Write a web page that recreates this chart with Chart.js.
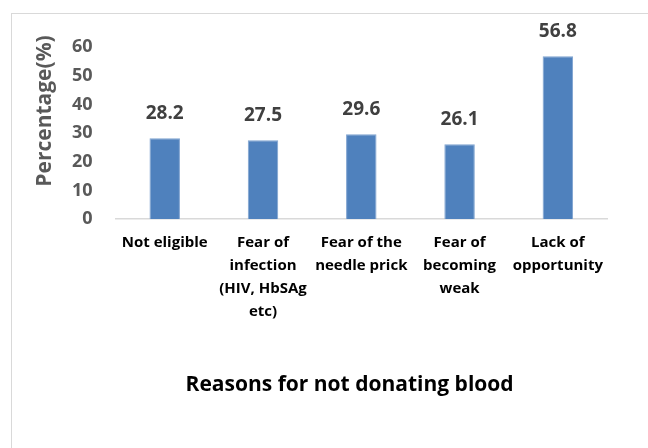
<!DOCTYPE html>
<html>
<head>
<meta charset="utf-8">
<script src="https://cdn.jsdelivr.net/npm/chart.js@4.4.0/dist/chart.umd.min.js"></script>
<style>
  html, body { margin: 0; padding: 0; background: #fff; }
  #wrap { position: relative; width: 648px; height: 448px; }
  #frame { position: absolute; left: 11px; top: 13px; right: 0; bottom: 0;
           border-left: 1.5px solid #d9d9d9; border-top: 1.5px solid #d9d9d9; }
  canvas { position: absolute; left: 0; top: 0; }
</style>
</head>
<body>
<div id="wrap">
  <div id="frame"></div>
  <canvas id="chart" width="648" height="448"></canvas>
</div>
<script>
const categories = [
  ['Not eligible'],
  ['Fear of', 'infection', '(HIV, HbSAg', 'etc)'],
  ['Fear of the', 'needle prick'],
  ['Fear of', 'becoming', 'weak'],
  ['Lack of', 'opportunity']
];
const percentages = [28.2, 27.5, 29.6, 26.1, 56.8];
const yTicks = { min: 0, max: 60, step: 10 };
const yTitle = 'Percentage(%)';
const xTitle = 'Reasons for not donating blood';

const FONT = '"Open Sans", sans-serif';

// value above each bar
const valueLabels = {
  id: 'valueLabels',
  afterDatasetsDraw(chart) {
    const ctx = chart.ctx;
    const meta = chart.getDatasetMeta(0);
    ctx.save();
    ctx.font = 'bold 19px ' + FONT;
    ctx.fillStyle = '#404040';
    ctx.textAlign = 'center';
    ctx.textBaseline = 'alphabetic';
    meta.data.forEach((bar, i) => {
      ctx.fillText(percentages[i].toFixed(1), bar.x, bar.y - 19);
    });
    ctx.restore();
  }
};

// axis titles, placed like the original (a bit off-centre)
const axisTitles = {
  id: 'axisTitles',
  afterDraw(chart) {
    const { ctx, chartArea } = chart;
    ctx.save();
    ctx.textAlign = 'center';
    ctx.textBaseline = 'middle';
    ctx.font = 'bold 21px ' + FONT;
    ctx.fillStyle = '#595959';
    ctx.translate(chartArea.left - 71, chartArea.top + 64);
    ctx.rotate(-Math.PI / 2);
    ctx.fillText(yTitle, 0, 0);
    ctx.restore();

    ctx.save();
    ctx.textAlign = 'center';
    ctx.textBaseline = 'middle';
    ctx.font = 'bold 21px ' + FONT;
    ctx.fillStyle = '#000';
    ctx.fillText(xTitle, chartArea.left + 234, chartArea.bottom + 166);
    ctx.restore();
  }
};

new Chart(document.getElementById('chart').getContext('2d'), {
  type: 'bar',
  data: {
    labels: categories,
    datasets: [{
      data: percentages,
      backgroundColor: '#4f81bd',
      borderColor: '#7fa3d0',
      borderWidth: 1,
      barPercentage: 0.31,
      categoryPercentage: 1
    }]
  },
  options: {
    responsive: false,
    animation: false,
    // tick padding is reserved twice by the axis fit, hence these numbers
    layout: { padding: { left: 49, right: 41, top: 47, bottom: 113 } },
    plugins: {
      legend: { display: false },
      tooltip: { enabled: false }
    },
    scales: {
      x: {
        grid: { display: false, drawTicks: false },
        border: { display: true, color: '#d9d9d9', width: 1.5 },
        ticks: {
          color: '#000',
          font: { family: FONT, size: 15, weight: 'bold', lineHeight: 1.53 },
          maxRotation: 0,
          autoSkip: false,
          padding: 12
        }
      },
      y: {
        min: yTicks.min,
        max: yTicks.max,
        grid: { display: false, drawTicks: false },
        border: { display: false },
        ticks: {
          stepSize: yTicks.step,
          color: '#595959',
          font: { family: FONT, size: 18, weight: 'bold' },
          padding: 23
        }
      }
    }
  },
  plugins: [valueLabels, axisTitles]
});
</script>
</body>
</html>
